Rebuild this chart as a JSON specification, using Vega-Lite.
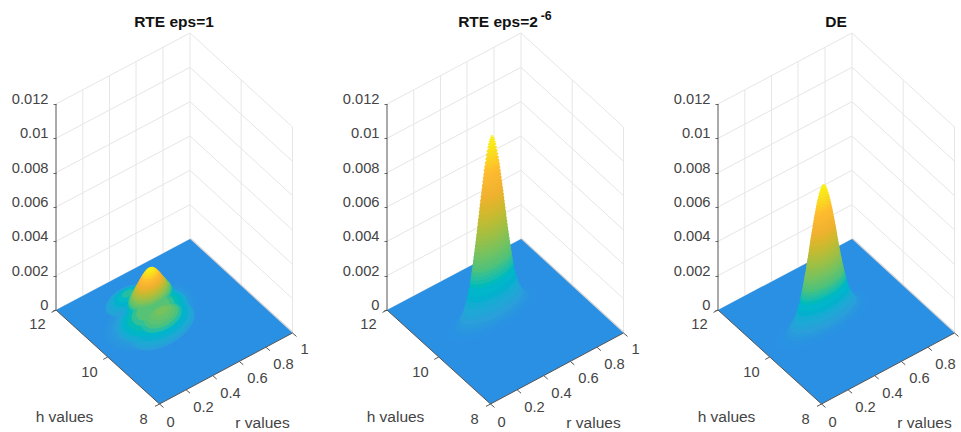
{"$schema":"https://vega.github.io/schema/vega-lite/v6.json","background":"white","padding":{"left":11,"top":9,"right":0,"bottom":0},"bounds":"flush","spacing":95,
"config":{"view":{"stroke":null},"font":"Liberation Sans","title":{"font":"Liberation Sans","fontSize":15.5,"fontWeight":"bold","color":"#111111","anchor":"middle","frame":"group","offset":-21}},
"datasets":{
"grid":[
{"id":"z0","sx":0,"sz":0},{"id":"z0","sx":134,"sz":0.004136},{"id":"z0","sx":236.5,"sz":-0.00134},
{"id":"z2","sx":0,"sz":0.002},{"id":"z2","sx":134,"sz":0.006136},{"id":"z2","sx":236.5,"sz":0.00066},
{"id":"z4","sx":0,"sz":0.004},{"id":"z4","sx":134,"sz":0.008136},{"id":"z4","sx":236.5,"sz":0.00266},
{"id":"z6","sx":0,"sz":0.006},{"id":"z6","sx":134,"sz":0.010136},{"id":"z6","sx":236.5,"sz":0.00466},
{"id":"z8","sx":0,"sz":0.008},{"id":"z8","sx":134,"sz":0.012136},{"id":"z8","sx":236.5,"sz":0.00666},
{"id":"z10","sx":0,"sz":0.01},{"id":"z10","sx":134,"sz":0.014136},{"id":"z10","sx":236.5,"sz":0.00866},
{"id":"z12","sx":0,"sz":0.012},{"id":"z12","sx":134,"sz":0.016136},{"id":"z12","sx":236.5,"sz":0.01066},
{"id":"r2","sx":26.8,"sz":0.000827},{"id":"r2","sx":26.8,"sz":0.012827},
{"id":"r4","sx":53.5,"sz":0.001651},{"id":"r4","sx":53.5,"sz":0.013651},
{"id":"r6","sx":80,"sz":0.002469},{"id":"r6","sx":80,"sz":0.014469},
{"id":"r8","sx":107,"sz":0.003303},{"id":"r8","sx":107,"sz":0.015303},
{"id":"r10","sx":134,"sz":0.004136},{"id":"r10","sx":134,"sz":0.016136},
{"id":"h10","sx":185.2,"sz":0.001401},{"id":"h10","sx":185.2,"sz":0.013401},
{"id":"h12","sx":236.5,"sz":-0.00134},{"id":"h12","sx":236.5,"sz":0.01066}],
"floor":[{"sx":0,"sz":0,"sz2":0},{"sx":103.5,"sz":0.003195,"sz2":-0.005476},{"sx":134,"sz":0.004136,"sz2":-0.004527},{"sx":236.5,"sz":-0.00134,"sz2":-0.00134}],
"backedge":[{"sx":134,"sz":0.004136},{"sx":236.5,"sz":-0.00134}],
"axes":[
{"id":"zaxis","sx":0,"sz":0},{"id":"zaxis","sx":0,"sz":0.012},
{"id":"haxis","sx":0,"sz":0},{"id":"haxis","sx":103.5,"sz":-0.005476},
{"id":"raxis","sx":103.5,"sz":-0.005476},{"id":"raxis","sx":236.5,"sz":-0.00134},
{"id":"h12","sx":0,"sz":0},{"id":"h12","sx":-4.5,"sz":-0.00014},
{"id":"h10","sx":51.75,"sz":-0.002738},{"id":"h10","sx":47.25,"sz":-0.002878},
{"id":"h8","sx":103.5,"sz":-0.005476},{"id":"h8","sx":99,"sz":-0.005616},
{"id":"r0","sx":103.5,"sz":-0.005476},{"id":"r0","sx":107.5,"sz":-0.005676},
{"id":"r2","sx":130.1,"sz":-0.004649},{"id":"r2","sx":134.1,"sz":-0.004849},
{"id":"r4","sx":156.7,"sz":-0.003822},{"id":"r4","sx":160.7,"sz":-0.004022},
{"id":"r6","sx":183.3,"sz":-0.002994},{"id":"r6","sx":187.3,"sz":-0.003194},
{"id":"r8","sx":209.9,"sz":-0.002167},{"id":"r8","sx":213.9,"sz":-0.002367},
{"id":"r10","sx":236.5,"sz":-0.00134},{"id":"r10","sx":240.5,"sz":-0.00154}],
"ticklabels":[
{"text":"12","sx":-18.5,"sz":-0.000874},{"text":"10","sx":33.5,"sz":-0.00367},{"text":"8","sx":87.5,"sz":-0.006408},
{"text":"0","sx":114.5,"sz":-0.006582},{"text":"0.2","sx":147.5,"sz":-0.005709},{"text":"0.4","sx":174.5,"sz":-0.004893},{"text":"0.6","sx":201.5,"sz":-0.004019},{"text":"0.8","sx":227.5,"sz":-0.003204},{"text":"1","sx":248.5,"sz":-0.00233}],
"axistitles":[{"text":"h values","sx":8.5,"sz":-0.006233},{"text":"r values","sx":206.5,"sz":-0.006582}],
"superscript":[{"text":"-6","sx":159.2,"sz":0.017126}],
"surface1":[
{"z":0.00002,"sx":94,"sz":-0.000446,"spread":50},{"z":0.00004,"sx":94,"sz":-0.000426,"spread":46},{"z":0.00007,"sx":94,"sz":-0.000396,"spread":42},{"z":0.0001,"sx":105.5,"sz":-0.000919,"spread":36},{"z":0.00011,"sx":94,"sz":-0.000356,"spread":38},
{"z":0.00015,"sx":105.5,"sz":-0.000849,"spread":35},{"z":0.00015,"sx":71.5,"sz":0.000558,"spread":23.6},{"z":0.0002,"sx":94,"sz":0.000433,"spread":28},{"z":0.000225,"sx":105.5,"sz":-0.000749,"spread":32.9},
{"z":0.00025,"sx":71.5,"sz":0.000658,"spread":18.8},{"z":0.00025,"sx":97,"sz":-0.000316,"spread":38},{"z":0.0003,"sx":105.5,"sz":-0.000649,"spread":28.9},{"z":0.0003,"sx":94,"sz":0.000533,"spread":26},{"z":0.00035,"sx":71.5,"sz":0.000758,"spread":14.7},
{"z":0.000375,"sx":105.5,"sz":-0.000549,"spread":25.3},{"z":0.0004,"sx":97,"sz":-0.000216,"spread":33},{"z":0.0004,"sx":94,"sz":0.000633,"spread":25},{"z":0.00045,"sx":71.5,"sz":0.000858,"spread":10.8},{"z":0.0005,"sx":97,"sz":-0.000116,"spread":28},{"z":0.0005,"sx":94,"sz":0.000733,"spread":24.5},
{"z":0.00055,"sx":105.5,"sz":-0.000449,"spread":22},{"z":0.00055,"sx":71.5,"sz":0.000958,"spread":5.9},{"z":0.0006,"sx":97,"sz":-0.000016,"spread":23},{"z":0.0006,"sx":94,"sz":0.000833,"spread":23.6},{"z":0.00065,"sx":105.5,"sz":-0.000349,"spread":18.7},{"z":0.0007,"sx":97,"sz":0.000084,"spread":18},{"z":0.0007,"sx":94,"sz":0.000933,"spread":22.7},
{"z":0.00072,"sx":105.5,"sz":-0.000249,"spread":15.3},{"z":0.00078,"sx":105.5,"sz":-0.000149,"spread":11.5},{"z":0.0008,"sx":94,"sz":0.001033,"spread":21.3},{"z":0.00085,"sx":105.5,"sz":-0.000049,"spread":6.5},{"z":0.0009,"sx":94,"sz":0.001133,"spread":20},{"z":0.001,"sx":94,"sz":0.001233,"spread":18.8},
{"z":0.0011,"sx":94,"sz":0.001333,"spread":17.7},{"z":0.0012,"sx":94,"sz":0.001433,"spread":16.5},{"z":0.0013,"sx":94,"sz":0.001533,"spread":15.4},{"z":0.0014,"sx":94,"sz":0.001633,"spread":14.3},{"z":0.0015,"sx":94,"sz":0.001733,"spread":13.1},{"z":0.0016,"sx":94,"sz":0.001833,"spread":12},{"z":0.0017,"sx":94,"sz":0.001933,"spread":10.8},{"z":0.0018,"sx":94,"sz":0.002033,"spread":9.5},{"z":0.0019,"sx":94,"sz":0.002133,"spread":8.1},{"z":0.002,"sx":94,"sz":0.002233,"spread":6.6},{"z":0.0021,"sx":94,"sz":0.002333,"spread":4.6},{"z":0.00216,"sx":94,"sz":0.002393,"spread":2.9}],
"surface2":[
{"z":0.000021,"sx":104.8,"sz":-0.000212,"spread":50.1},{"z":0.000052,"sx":104.8,"sz":-0.000181,"spread":46.3},{"z":0.000104,"sx":104.8,"sz":-0.000129,"spread":43.2},{"z":0.000209,"sx":104.8,"sz":-0.000024,"spread":39.8},{"z":0.000365,"sx":104.8,"sz":0.000132,"spread":36.8},{"z":0.000522,"sx":104.8,"sz":0.000289,"spread":34.8},{"z":0.00073,"sx":104.8,"sz":0.000497,"spread":32.8},{"z":0.000939,"sx":104.8,"sz":0.000706,"spread":31.2},{"z":0.001252,"sx":104.8,"sz":0.001019,"spread":29.3},{"z":0.001565,"sx":104.8,"sz":0.001332,"spread":27.7},{"z":0.001877,"sx":104.8,"sz":0.001644,"spread":26.3},{"z":0.002295,"sx":104.8,"sz":0.002062,"spread":24.7},
{"z":0.0025035,"sx":104.8,"sz":0.0022705,"spread":24},{"z":0.002712,"sx":104.8,"sz":0.002479,"spread":23.3},{"z":0.0029205,"sx":104.8,"sz":0.0026875,"spread":22.7},{"z":0.003129,"sx":104.8,"sz":0.002896,"spread":22.1},{"z":0.0033375,"sx":104.8,"sz":0.0031045,"spread":21.5},{"z":0.003546,"sx":104.8,"sz":0.003313,"spread":20.9},{"z":0.0037545,"sx":104.8,"sz":0.0035215,"spread":20.35},{"z":0.003963,"sx":104.8,"sz":0.00373,"spread":19.8},{"z":0.004172,"sx":104.8,"sz":0.003939,"spread":19.25},{"z":0.004381,"sx":104.8,"sz":0.004148,"spread":18.7},{"z":0.0045895,"sx":104.8,"sz":0.0043565,"spread":18.2},{"z":0.004798,"sx":104.8,"sz":0.004565,"spread":17.7},{"z":0.0050065,"sx":104.8,"sz":0.0047735,"spread":17.2},{"z":0.005215,"sx":104.8,"sz":0.004982,"spread":16.7},{"z":0.0054235,"sx":104.8,"sz":0.0051905,"spread":16.25},{"z":0.005632,"sx":104.8,"sz":0.005399,"spread":15.8},{"z":0.0058405,"sx":104.8,"sz":0.0056075,"spread":15.3},{"z":0.006049,"sx":104.8,"sz":0.005816,"spread":14.8},{"z":0.006258,"sx":104.8,"sz":0.006025,"spread":14.35},{"z":0.006467,"sx":104.8,"sz":0.006234,"spread":13.9},{"z":0.0066755,"sx":104.8,"sz":0.0064425,"spread":13.45},{"z":0.006884,"sx":104.8,"sz":0.006651,"spread":13},{"z":0.0070925,"sx":104.8,"sz":0.0068595,"spread":12.5},{"z":0.007301,"sx":104.8,"sz":0.007068,"spread":12},{"z":0.0075095,"sx":104.8,"sz":0.0072765,"spread":11.5},{"z":0.007718,"sx":104.8,"sz":0.007485,"spread":11},{"z":0.0079265,"sx":104.8,"sz":0.0076935,"spread":10.5},{"z":0.008135,"sx":104.8,"sz":0.007902,"spread":10},{"z":0.008344,"sx":104.8,"sz":0.008111,"spread":9.5},{"z":0.008553,"sx":104.8,"sz":0.00832,"spread":9},{"z":0.0087615,"sx":104.8,"sz":0.0085285,"spread":8.4},{"z":0.00897,"sx":104.8,"sz":0.008737,"spread":7.8},{"z":0.0091785,"sx":104.8,"sz":0.0089455,"spread":7.15},{"z":0.009387,"sx":104.8,"sz":0.009154,"spread":6.5},{"z":0.0095955,"sx":104.8,"sz":0.0093625,"spread":5.8},{"z":0.009804,"sx":104.8,"sz":0.009571,"spread":5},{"z":0.0099605,"sx":104.8,"sz":0.0097275,"spread":4.3},{"z":0.010117,"sx":104.8,"sz":0.009884,"spread":3.5},{"z":0.0102215,"sx":104.8,"sz":0.0099885,"spread":2.8},{"z":0.010326,"sx":104.8,"sz":0.010093,"spread":2},{"z":0.01039,"sx":104.8,"sz":0.010157,"spread":1.2}],
"surface3":[
{"z":0.000016,"sx":105.3,"sz":-0.000567,"spread":52.8},{"z":0.00004,"sx":105.3,"sz":-0.000543,"spread":48.8},{"z":0.000079,"sx":105.3,"sz":-0.000504,"spread":45.5},{"z":0.000158,"sx":105.3,"sz":-0.000425,"spread":41.9},{"z":0.000277,"sx":105.3,"sz":-0.000306,"spread":38.8},{"z":0.000396,"sx":105.3,"sz":-0.000187,"spread":36.7},{"z":0.000554,"sx":105.3,"sz":-0.000029,"spread":34.6},{"z":0.000713,"sx":105.3,"sz":0.00013,"spread":32.9},{"z":0.00095,"sx":105.3,"sz":0.000367,"spread":30.9},{"z":0.001188,"sx":105.3,"sz":0.000605,"spread":29.2},{"z":0.001426,"sx":105.3,"sz":0.000843,"spread":27.8},{"z":0.001742,"sx":105.3,"sz":0.001159,"spread":26.1},
{"z":0.0019005,"sx":105.3,"sz":0.0013175,"spread":25.35},{"z":0.002059,"sx":105.3,"sz":0.001476,"spread":24.6},{"z":0.0022175,"sx":105.3,"sz":0.0016345,"spread":23.95},{"z":0.002376,"sx":105.3,"sz":0.001793,"spread":23.3},{"z":0.0025345,"sx":105.3,"sz":0.0019515,"spread":22.65},{"z":0.002693,"sx":105.3,"sz":0.00211,"spread":22},{"z":0.0028515,"sx":105.3,"sz":0.0022685,"spread":21.45},{"z":0.00301,"sx":105.3,"sz":0.002427,"spread":20.9},{"z":0.003168,"sx":105.3,"sz":0.002585,"spread":20.3},{"z":0.003326,"sx":105.3,"sz":0.002743,"spread":19.7},{"z":0.0034845,"sx":105.3,"sz":0.0029015,"spread":19.2},{"z":0.003643,"sx":105.3,"sz":0.00306,"spread":18.7},{"z":0.0038015,"sx":105.3,"sz":0.0032185,"spread":18.15},{"z":0.00396,"sx":105.3,"sz":0.003377,"spread":17.6},{"z":0.0041185,"sx":105.3,"sz":0.0035355,"spread":17.1},{"z":0.004277,"sx":105.3,"sz":0.003694,"spread":16.6},{"z":0.0044355,"sx":105.3,"sz":0.0038525,"spread":16.1},{"z":0.004594,"sx":105.3,"sz":0.004011,"spread":15.6},{"z":0.004752,"sx":105.3,"sz":0.004169,"spread":15.15},{"z":0.00491,"sx":105.3,"sz":0.004327,"spread":14.7},{"z":0.0050685,"sx":105.3,"sz":0.0044855,"spread":14.2},{"z":0.005227,"sx":105.3,"sz":0.004644,"spread":13.7},{"z":0.0053855,"sx":105.3,"sz":0.0048025,"spread":13.2},{"z":0.005544,"sx":105.3,"sz":0.004961,"spread":12.7},{"z":0.0057025,"sx":105.3,"sz":0.0051195,"spread":12.15},{"z":0.005861,"sx":105.3,"sz":0.005278,"spread":11.6},{"z":0.0060195,"sx":105.3,"sz":0.0054365,"spread":11.1},{"z":0.006178,"sx":105.3,"sz":0.005595,"spread":10.6},{"z":0.006336,"sx":105.3,"sz":0.005753,"spread":10},{"z":0.006494,"sx":105.3,"sz":0.005911,"spread":9.4},{"z":0.0066525,"sx":105.3,"sz":0.0060695,"spread":8.8},{"z":0.006811,"sx":105.3,"sz":0.006228,"spread":8.2},{"z":0.0069695,"sx":105.3,"sz":0.0063865,"spread":7.55},{"z":0.007128,"sx":105.3,"sz":0.006545,"spread":6.9},{"z":0.0072865,"sx":105.3,"sz":0.0067035,"spread":6.1},{"z":0.007445,"sx":105.3,"sz":0.006862,"spread":5.3},{"z":0.0075635,"sx":105.3,"sz":0.0069805,"spread":4.5},{"z":0.007682,"sx":105.3,"sz":0.007099,"spread":3.7},{"z":0.0077615,"sx":105.3,"sz":0.0071785,"spread":2.9},{"z":0.007841,"sx":105.3,"sz":0.007258,"spread":2.1},{"z":0.00789,"sx":105.3,"sz":0.007307,"spread":1.3}]
},
"hconcat":[
{"title":"RTE eps=1","width":236,"height":423,
"encoding":{"x":{"field":"sx","type":"quantitative","scale":{"domain":[0,236],"nice":false,"zero":false},"axis":null},"y":{"field":"sz","type":"quantitative","scale":{"domain":[-0.007107,0.017534],"nice":false,"zero":false},"axis":{"title":null,"values":[0,0.002,0.004,0.006,0.008,0.01,0.012],"format":".3~f","domain":false,"grid":false,"tickSize":3,"tickColor":"#666666","labelFontSize":14.7,"labelColor":"#444444","labelFont":"Liberation Sans","labelPadding":5,"labelOffset":-4.5}}},
"layer":[
{"data":{"name":"grid"},"mark":{"type":"line","color":"#e6e6e6","strokeWidth":1},"encoding":{"detail":{"field":"id"}}},
{"data":{"name":"backedge"},"mark":{"type":"line","color":"#d4d4d4","strokeWidth":2.5},"encoding":{}},
{"data":{"name":"floor"},"mark":{"type":"area","color":"#2A90E4"},"encoding":{"y2":{"field":"sz2"}}},
{"data":{"name":"axes"},"mark":{"type":"line","color":"#555555","strokeWidth":1},"encoding":{"detail":{"field":"id"}}},
{"data":{"name":"surface1"},"mark":{"type":"point","filled":true,"opacity":1,"strokeWidth":0,"shape":"M-0.883,0.469A1,0.55,-28,1,1,0.883,-0.469A1,0.55,-28,1,1,-0.883,0.469Z"},"encoding":{"order":{"field":"z"},"size":{"field":"spread","type":"quantitative","legend":null,"scale":{"type":"pow","exponent":2,"domain":[0,100],"range":[0,40000]}},"color":{"field":"z","type":"quantitative","legend":null,"scale":{"domain":[0,0.000044,0.00011,0.00022,0.00044,0.00055,0.00066,0.00099,0.001276,0.001496,0.00176,0.00198,0.0022],"range":["#2A90E4","#2A96E0","#2A9FDA","#1FA9D4","#09B8C6","#25BEA5","#4CC27C","#97C04A","#CDB92F","#F0B130","#FDBB30","#F9DC1E","#F7F514"]}}}},
{"data":{"name":"ticklabels"},"mark":{"type":"text","fontSize":14.7,"color":"#444444","align":"center","baseline":"middle"},"encoding":{"text":{"field":"text"}}},
{"data":{"name":"axistitles"},"mark":{"type":"text","fontSize":15.5,"color":"#444444","align":"center","baseline":"middle"},"encoding":{"text":{"field":"text"}}}
]},
{"title":{"text":"RTE eps=2","dx":-7},"width":236,"height":423,
"encoding":{"x":{"field":"sx","type":"quantitative","scale":{"domain":[0,236],"nice":false,"zero":false},"axis":null},"y":{"field":"sz","type":"quantitative","scale":{"domain":[-0.007107,0.017534],"nice":false,"zero":false},"axis":{"title":null,"values":[0,0.002,0.004,0.006,0.008,0.01,0.012],"format":".3~f","domain":false,"grid":false,"tickSize":3,"tickColor":"#666666","labelFontSize":14.7,"labelColor":"#444444","labelFont":"Liberation Sans","labelPadding":5,"labelOffset":-4.5}}},
"layer":[
{"data":{"name":"grid"},"mark":{"type":"line","color":"#e6e6e6","strokeWidth":1},"encoding":{"detail":{"field":"id"}}},
{"data":{"name":"backedge"},"mark":{"type":"line","color":"#d4d4d4","strokeWidth":2.5},"encoding":{}},
{"data":{"name":"floor"},"mark":{"type":"area","color":"#2A90E4"},"encoding":{"y2":{"field":"sz2"}}},
{"data":{"name":"axes"},"mark":{"type":"line","color":"#555555","strokeWidth":1},"encoding":{"detail":{"field":"id"}}},
{"data":{"name":"surface2"},"mark":{"type":"point","filled":true,"opacity":1,"strokeWidth":0,"shape":"M-0.883,0.469A1,0.35,-28,1,1,0.883,-0.469A1,0.35,-28,1,1,-0.883,0.469Z"},"encoding":{"order":{"field":"z"},"size":{"field":"spread","type":"quantitative","legend":null,"scale":{"type":"pow","exponent":2,"domain":[0,100],"range":[0,40000]}},"color":{"field":"z","type":"quantitative","legend":null,"scale":{"domain":[0,0.000209,0.000522,0.001043,0.002086,0.002608,0.003129,0.004694,0.006049,0.007092,0.008344,0.009387,0.01043],"range":["#2A90E4","#2A96E0","#2A9FDA","#1FA9D4","#09B8C6","#25BEA5","#4CC27C","#97C04A","#CDB92F","#F0B130","#FDBB30","#F9DC1E","#F7F514"]}}}},
{"data":{"name":"ticklabels"},"mark":{"type":"text","fontSize":14.7,"color":"#444444","align":"center","baseline":"middle"},"encoding":{"text":{"field":"text"}}},
{"data":{"name":"axistitles"},"mark":{"type":"text","fontSize":15.5,"color":"#444444","align":"center","baseline":"middle"},"encoding":{"text":{"field":"text"}}},
{"data":{"name":"superscript"},"mark":{"type":"text","fontSize":12.4,"fontWeight":"bold","color":"#111111","align":"center","baseline":"middle"},"encoding":{"text":{"field":"text"}}}
]},
{"title":"DE","width":236,"height":423,
"encoding":{"x":{"field":"sx","type":"quantitative","scale":{"domain":[0,236],"nice":false,"zero":false},"axis":null},"y":{"field":"sz","type":"quantitative","scale":{"domain":[-0.007107,0.017534],"nice":false,"zero":false},"axis":{"title":null,"values":[0,0.002,0.004,0.006,0.008,0.01,0.012],"format":".3~f","domain":false,"grid":false,"tickSize":3,"tickColor":"#666666","labelFontSize":14.7,"labelColor":"#444444","labelFont":"Liberation Sans","labelPadding":5,"labelOffset":-4.5}}},
"layer":[
{"data":{"name":"grid"},"mark":{"type":"line","color":"#e6e6e6","strokeWidth":1},"encoding":{"detail":{"field":"id"}}},
{"data":{"name":"backedge"},"mark":{"type":"line","color":"#d4d4d4","strokeWidth":2.5},"encoding":{}},
{"data":{"name":"floor"},"mark":{"type":"area","color":"#2A90E4"},"encoding":{"y2":{"field":"sz2"}}},
{"data":{"name":"axes"},"mark":{"type":"line","color":"#555555","strokeWidth":1},"encoding":{"detail":{"field":"id"}}},
{"data":{"name":"surface3"},"mark":{"type":"point","filled":true,"opacity":1,"strokeWidth":0,"shape":"M-0.883,0.469A1,0.35,-28,1,1,0.883,-0.469A1,0.35,-28,1,1,-0.883,0.469Z"},"encoding":{"order":{"field":"z"},"size":{"field":"spread","type":"quantitative","legend":null,"scale":{"type":"pow","exponent":2,"domain":[0,100],"range":[0,40000]}},"color":{"field":"z","type":"quantitative","legend":null,"scale":{"domain":[0,0.000158,0.000396,0.000792,0.001584,0.00198,0.002376,0.003564,0.004594,0.005386,0.006336,0.007128,0.00792],"range":["#2A90E4","#2A96E0","#2A9FDA","#1FA9D4","#09B8C6","#25BEA5","#4CC27C","#97C04A","#CDB92F","#F0B130","#FDBB30","#F9DC1E","#F7F514"]}}}},
{"data":{"name":"ticklabels"},"transform":[{"filter":"datum.text != '1'"}],"mark":{"type":"text","fontSize":14.7,"color":"#444444","align":"center","baseline":"middle"},"encoding":{"text":{"field":"text"}}},
{"data":{"name":"axistitles"},"mark":{"type":"text","fontSize":15.5,"color":"#444444","align":"center","baseline":"middle"},"encoding":{"text":{"field":"text"}}}
]}
],
"resolve":{"scale":{"color":"independent","size":"independent"}}}
